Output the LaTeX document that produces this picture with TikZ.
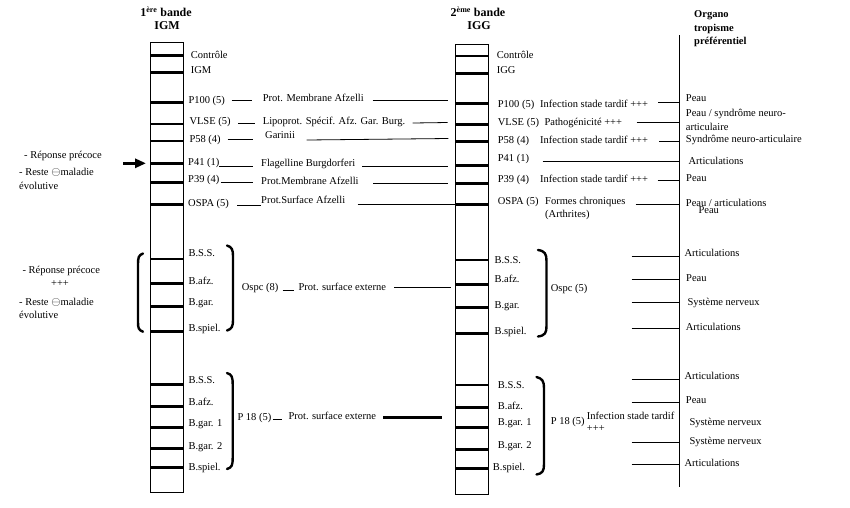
\documentclass[tikz,border=0pt]{standalone}
\usepackage{fontspec}
\setmainfont{Liberation Serif}
\usetikzlibrary{arrows.meta}
\newcommand{\circmin}{{\fontsize{12.5}{12}\selectfont$\ominus$}}
\begin{document}
\begin{tikzpicture}[x=1pt,y=-1pt,
  lbl/.style={anchor=west,inner sep=0pt,font=\fontsize{10.5}{12}\selectfont,text height=7pt,text depth=2pt},
  hdr/.style={anchor=center,inner sep=0pt,font=\fontsize{12}{14}\selectfont\bfseries},
  org/.style={anchor=west,inner sep=0pt,font=\fontsize{10.5}{12}\selectfont\bfseries,text height=7pt,text depth=2pt},
  band/.style={line width=2.8pt},
  conn/.style={line width=0.8pt},
  brk/.style={line width=2.4pt,line cap=round}]
\useasboundingbox (0,0) rectangle (850,507);

% headers
\node[hdr] (h1) at (166,12) {1\textsuperscript{ère} bande};
\node[hdr] (h1b) at (167,25.5) {IGM};
\node[hdr] (h2) at (478,12) {2\textsuperscript{ème} bande};
\node[hdr] (h2b) at (479,26) {IGG};
\node[org] (o1) at (694,15) {Organo};
\node[org] (o2) at (694,28.5) {tropisme};
\node[org] (o3) at (694,42.3) {préférentiel};

% strips
\draw[conn] (150.7,42.7) rectangle (183.3,492.7);
\foreach \y in {55.5,72.7,102.3,124,141,163.3,182.3,204.3,259,283.3,306.7,331.7,384.3,406.7,427.3,448.3,467.7}
  \draw[band] (150.7,\y) -- (183.3,\y);
\draw[conn] (455.5,44) rectangle (488.5,494);
\foreach \y in {56,73.3,103.3,124.3,141.7,165.7,183.3,204.3,260,284.3,307.7,333.3,385,407.3,427.7,449.3,468.3}
  \draw[band] (455.5,\y) -- (488.5,\y);
\draw[conn] (679.3,35) -- (679.3,486.7);

% left strip labels
\node[lbl] (lc) at (190.7,55.5) {Contrôle};
\node[lbl] (lg) at (190.7,70.7) {IGM};
\node[lbl] (l100) at (188.3,100.7) {P100 (5)};
\node[lbl] (lvl) at (189.3,122.3) {VLSE (5)};
\node[lbl] (l58) at (189.3,140) {P58 (4)};
\node[lbl] (l41) at (188,163.3) {P41 (1)};
\node[lbl] (l39) at (188,180) {P39 (4)};
\node[lbl] (los) at (188,204) {OSPA (5)};

% middle texts
\node[lbl] (m100) at (262.7,99.3) {Prot. Membrane Afzelli};
\node[lbl] (mvl) at (262.7,121.7) {Lipoprot. Spécif. Afz. Gar. Burg.};
\node[lbl] (m58) at (265,136) {Garinii};
\node[lbl] (m41) at (261,164.3) {Flagelline Burgdorferi};
\node[lbl] (m39) at (261,181.7) {Prot.Membrane Afzelli};
\node[lbl] (mos) at (261,201) {Prot.Surface Afzelli};

\draw[conn] (231.7,100.7) -- (251.7,100.7);
\draw[conn] (372.7,100) -- (447.7,100);
\draw[conn] (238.3,123.3) -- (255,123.3);
\draw[conn] (412.7,123) -- (447.7,122.5);
\draw[conn] (227.7,139) -- (253.3,139);
\draw[conn] (306.7,140) -- (448.3,138.5);
\draw[conn] (219.3,166) -- (253.3,166);
\draw[conn] (362.3,166.7) -- (448.3,166.7);
\draw[conn] (220.7,182.3) -- (253.3,182.3);
\draw[conn] (373.3,183.3) -- (448.3,183.3);
\draw[conn] (237.3,205) -- (261,205);
\draw[conn] (357.7,204.3) -- (460,204.3);

% right strip labels
\node[lbl] (rc) at (496.7,56) {Contrôle};
\node[lbl] (rg) at (496.7,71) {IGG};
\node[lbl] (r100) at (497.7,105) {P100 (5)};
\node[lbl] (rvl) at (497.7,123.3) {VLSE (5)};
\node[lbl] (r58) at (497.7,141) {P58 (4)};
\node[lbl] (r41) at (497.7,159) {P41 (1)};
\node[lbl] (r39) at (497.7,180) {P39 (4)};
\node[lbl] (ros) at (497.7,201.7) {OSPA (5)};

\node[lbl] (i100) at (540,105) {Infection stade tardif +++};
\node[lbl] (ivl) at (544.3,123.3) {Pathogénicité +++};
\node[lbl] (i58) at (540,141) {Infection stade tardif +++};
\node[lbl] (i39) at (540,180) {Infection stade tardif +++};
\node[lbl] (ios) at (545,201.7) {Formes chroniques};
\node[lbl] (ios2) at (545,215) {(Arthrites)};

\draw[conn] (658.3,102.7) -- (679.3,102.7);
\draw[conn] (636.7,122.3) -- (679.3,122.3);
\draw[conn] (659.3,141) -- (679.3,141);
\draw[conn] (542.7,161) -- (679.3,161);
\draw[conn] (657.7,180.7) -- (679.3,180.7);
\draw[conn] (635.7,204.3) -- (679.3,204.3);

% organ labels
\node[lbl] (p1) at (685.7,99.3) {Peau};
\node[lbl] (p2) at (685.7,114.3) {Peau / syndrôme neuro-};
\node[lbl] (p2b) at (685.7,127.7) {articulaire};
\node[lbl] (p3) at (685.7,140) {Syndrôme neuro-articulaire};
\node[lbl] (p4) at (688.3,162.3) {Articulations};
\node[lbl] (p5) at (686,179) {Peau};
\node[lbl] (p6) at (685.7,204) {Peau / articulations};
\node[lbl] (p6b) at (698.3,211) {Peau};

% left notes
\node[lbl] (n1) at (24,155.7) {- Réponse précoce};
\node[lbl] (n2) at (19,173.3) {- Reste \circmin maladie};
\node[lbl] (n3) at (19,186.7) {évolutive};
\node[lbl] (n4) at (22.3,270.7) {- Réponse précoce};
\node[lbl,anchor=center] (n5) at (60,284.3) {+++};
\node[lbl] (n6) at (19,302.7) {- Reste \circmin maladie};
\node[lbl] (n7) at (19,315.7) {évolutive};

% arrow
\draw[line width=3pt,-{Triangle[length=11pt,width=9pt]}] (123,163.3) -- (146,163.3);

% left bracket
\draw[brk] (143,253.5) .. controls (138.5,255) and (138,258) .. (138,264) -- (138,322) .. controls (138,328) and (138.5,330) .. (143,331.7);

% group 1 left
\node[lbl] (a1) at (188.3,254) {B.S.S.};
\node[lbl] (a2) at (188.3,281.7) {B.afz.};
\node[lbl] (a3) at (188.3,303.3) {B.gar.};
\node[lbl] (a4) at (188.3,329) {B.spiel.};
\draw[brk] (227,245.5) .. controls (232,247) and (233,250) .. (233,256) -- (233,320) .. controls (233,326) and (232,329) .. (227,330.5);
\node[lbl] (ospc8) at (241.7,287.7) {Ospc (8)};
\draw[conn] (282.7,290) -- (294,290);
\node[lbl] (pse1) at (298.3,287.7) {Prot. surface externe};
\draw[conn] (394,287.3) -- (451,287.3);

% group 1 right
\node[lbl] (b1) at (494.3,260.7) {B.S.S.};
\node[lbl] (b2) at (494.3,280) {B.afz.};
\node[lbl] (b3) at (494.3,305.7) {B.gar.};
\node[lbl] (b4) at (494.3,331.7) {B.spiel.};
\draw[brk] (538,250) .. controls (545,251) and (546.5,254) .. (546.5,261) -- (546.5,326) .. controls (546.5,333) and (545,335.5) .. (538,336.5);
\node[lbl] (ospc5) at (550.7,289.3) {Ospc (5)};
\draw[conn] (631.7,256) -- (679.3,256);
\draw[conn] (631.7,279.3) -- (679.3,279.3);
\draw[conn] (631.7,302.7) -- (679.3,302.7);
\draw[conn] (631.7,328.3) -- (679.3,328.3);
\node[lbl] (q1) at (684.3,254.3) {Articulations};
\node[lbl] (q2) at (686,279) {Peau};
\node[lbl] (q3) at (687.3,303.3) {Système nerveux};
\node[lbl] (q4) at (685.7,328) {Articulations};

% group 2 left
\node[lbl] (c1) at (188.3,380.7) {B.S.S.};
\node[lbl] (c2) at (188.3,403.3) {B.afz.};
\node[lbl] (c3) at (188.3,424) {B.gar. 1};
\node[lbl] (c4) at (188.3,446.7) {B.gar. 2};
\node[lbl] (c5) at (188.3,468.3) {B.spiel.};
\draw[brk] (227,373) .. controls (232,374.5) and (232.7,377.5) .. (232.7,384) -- (232.7,458) .. controls (232.7,465) and (232,467.5) .. (227,469);
\node[lbl] (p18a) at (237.3,418.3) {P 18 (5)};
\draw[conn] (272.7,419.3) -- (281.7,419.3);
\node[lbl] (pse2) at (288.3,416.7) {Prot. surface externe};
\draw[line width=2.8pt] (383.3,417.3) -- (441.7,417.3);

% group 2 right
\node[lbl] (d1) at (497.7,386) {B.S.S.};
\node[lbl] (d2) at (497.7,406.7) {B.afz.};
\node[lbl] (d3) at (497.7,423.3) {B.gar. 1};
\node[lbl] (d4) at (497.7,445.7) {B.gar. 2};
\node[lbl] (d5) at (492.7,468.3) {B.spiel.};
\draw[brk] (536.5,377) .. controls (542.5,378.5) and (544,381.5) .. (544,388) -- (544,464) .. controls (544,471) and (542.5,473.5) .. (536.5,474.5);
\node[lbl] (p18b) at (550.7,421.7) {P 18 (5)};
\node[lbl] (ist) at (586.7,416.7) {Infection stade tardif};
\node[lbl] (ist2) at (586.7,429) {+++};
\draw[conn] (631.7,379.3) -- (679.3,379.3);
\draw[conn] (631.7,402.7) -- (679.3,402.7);
\draw[conn] (631.7,442.3) -- (679.3,442.3);
\draw[conn] (631.7,464.3) -- (679.3,464.3);
\node[lbl] (s1) at (684.3,377.3) {Articulations};
\node[lbl] (s2) at (685.7,400.7) {Peau};
\node[lbl] (s3) at (689.3,423.3) {Système nerveux};
\node[lbl] (s4) at (689.3,441.7) {Système nerveux};
\node[lbl] (s5) at (684.3,464.3) {Articulations};
\end{tikzpicture}
\end{document}
